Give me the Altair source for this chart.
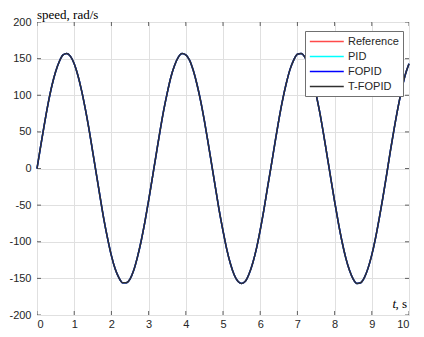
import altair as alt
import pandas as pd

# time samples (s)
t = [0.0, 0.1, 0.2, 0.3, 0.4, 0.5, 0.6, 0.7, 0.8, 0.9,
     1.0, 1.1, 1.2, 1.3, 1.4, 1.5, 1.6, 1.7, 1.8, 1.9,
     2.0, 2.1, 2.2, 2.3, 2.4, 2.5, 2.6, 2.7, 2.8, 2.9,
     3.0, 3.1, 3.2, 3.3, 3.4, 3.5, 3.6, 3.7, 3.8, 3.9,
     4.0, 4.1, 4.2, 4.3, 4.4, 4.5, 4.6, 4.7, 4.8, 4.9,
     5.0, 5.1, 5.2, 5.3, 5.4, 5.5, 5.6, 5.7, 5.8, 5.9,
     6.0, 6.1, 6.2, 6.3, 6.4, 6.5, 6.6, 6.7, 6.8, 6.9,
     7.0, 7.1, 7.2, 7.3, 7.4, 7.5, 7.6, 7.7, 7.8, 7.9,
     8.0, 8.1, 8.2, 8.3, 8.4, 8.5, 8.6, 8.7, 8.8, 8.9,
     9.0, 9.1, 9.2, 9.3, 9.4, 9.5, 9.6, 9.7, 9.8, 9.9, 10.0]

# speed (rad/s)
reference = [0, 31, 61, 89, 113, 132, 146, 155, 157, 153,
             143, 127, 106, 81, 53, 22, -9, -40, -70, -96,
             -119, -137, -149, -156, -156, -151, -139, -121, -99, -73,
             -44, -13, 18, 49, 78, 103, 125, 141, 152, 157,
             155, 148, 134, 115, 92, 65, 35, 4, -27, -58,
             -85, -110, -130, -145, -154, -157, -154, -144, -129, -109,
             -84, -56, -25, 5, 36, 66, 93, 116, 135, 148,
             156, 157, 152, 141, 125, 102, 77, 48, 17, -14,
             -45, -74, -100, -122, -139, -151, -157, -156, -149, -136,
             -118, -95, -68, -39, -8, 24, 54, 82, 107, 128, 143]
pid = list(reference)
fopid = list(reference)
tfopid = list(reference)

series_names = ["Reference", "PID", "FOPID", "T-FOPID"]
series_colors = ["#FF4A4A", "#00FFFF", "#0000FF", "#303030"]

x_ticks = [0, 1, 2, 3, 4, 5, 6, 7, 8, 9, 10]
y_ticks = [-200, -150, -100, -50, 0, 50, 100, 150, 200]

rows = []
for name, vals in zip(series_names, [reference, pid, fopid, tfopid]):
    for ti, vi in zip(t, vals):
        rows.append({"t": ti, "v": vi, "series": name})
df = pd.DataFrame(rows)
xt = pd.DataFrame({"t": x_ticks})
yt = pd.DataFrame({"v": y_ticks})

axis_common = dict(grid=True, gridColor="#E0E0E0", gridWidth=1, domain=False,
                   ticks=False, labelFont="Liberation Sans", labelFontSize=11,
                   labelColor="#262626", title=None, labelOverlap=False,
                   labelExpr="'' + datum.value")

xscale = alt.Scale(domain=[0, 10], nice=False)
yscale = alt.Scale(domain=[-200, 200], nice=False)
xaxis = alt.Axis(values=x_ticks, tickCount=11, labelPadding=3, **axis_common)
yaxis = alt.Axis(values=y_ticks, tickCount=9, labelPadding=6, **axis_common)


def xd(v):
    return alt.XDatum(v, type="quantitative", scale=xscale, axis=xaxis)


def yd(v):
    return alt.YDatum(v, type="quantitative", scale=yscale, axis=yaxis)


color_scale = alt.Scale(domain=series_names, range=series_colors)
legend = alt.Legend(title=None, orient="none", legendX=268, legendY=9,
                    symbolType="M -1 0 H 5", symbolSize=128, symbolStrokeWidth=1.5,
                    symbolFillColor="transparent",
                    labelFont="Liberation Sans", labelFontSize=11, labelColor="#262626",
                    fillColor="white", strokeColor="#707070", padding=4,
                    labelOffset=26, rowPadding=3, cornerRadius=0)

lines = alt.Chart(df).mark_line(strokeWidth=1.5, interpolate="monotone").encode(
    x=alt.X("t:Q", scale=xscale, axis=xaxis),
    y=alt.Y("v:Q", scale=yscale, axis=yaxis),
    color=alt.Color("series:N", scale=color_scale, legend=legend, sort=series_names),
)

tick_color = "#262626"
tick_kw = dict(size=8, clip=True, color=tick_color, thickness=1)
top_ticks = alt.Chart(xt).mark_tick(orient="vertical", **tick_kw).encode(
    x=alt.X("t:Q", scale=xscale, axis=xaxis), y=yd(200))
bot_ticks = alt.Chart(xt).mark_tick(orient="vertical", **tick_kw).encode(
    x=alt.X("t:Q", scale=xscale, axis=xaxis), y=yd(-200))
left_ticks = alt.Chart(yt).mark_tick(orient="horizontal", **tick_kw).encode(
    y=alt.Y("v:Q", scale=yscale, axis=yaxis), x=xd(0))
right_ticks = alt.Chart(yt).mark_tick(orient="horizontal", **tick_kw).encode(
    y=alt.Y("v:Q", scale=yscale, axis=yaxis), x=xd(10))

one = xt.head(1)
title_txt = alt.Chart(one).mark_text(text="speed, rad/s", font="Liberation Serif", fontSize=13,
                                     align="left", baseline="alphabetic", dy=-3,
                                     color="#000000").encode(x=xd(0), y=yd(200))
lab_s = alt.Chart(one).mark_text(text=", s", font="Liberation Serif", fontSize=13,
                                 align="right", baseline="alphabetic", dx=-2, dy=-7,
                                 color="#000000").encode(x=xd(10), y=yd(-200))
lab_t = alt.Chart(one).mark_text(text="t", font="Liberation Serif", fontSize=13, fontStyle="italic",
                                 align="right", baseline="alphabetic", dx=-13, dy=-7,
                                 color="#000000").encode(x=xd(10), y=yd(-200))

chart = alt.layer(lines, top_ticks, bot_ticks, left_ticks, right_ticks, title_txt, lab_s, lab_t).properties(
    width=372, height=293,
    autosize=alt.AutoSizeParams(type="none"),
    padding={"left": 29, "top": 14, "right": 7, "bottom": 14},
).configure_view(stroke="#262626", strokeWidth=1).configure(background="white")

chart.save("out.html", embed_options={"renderer": "svg", "actions": False})
